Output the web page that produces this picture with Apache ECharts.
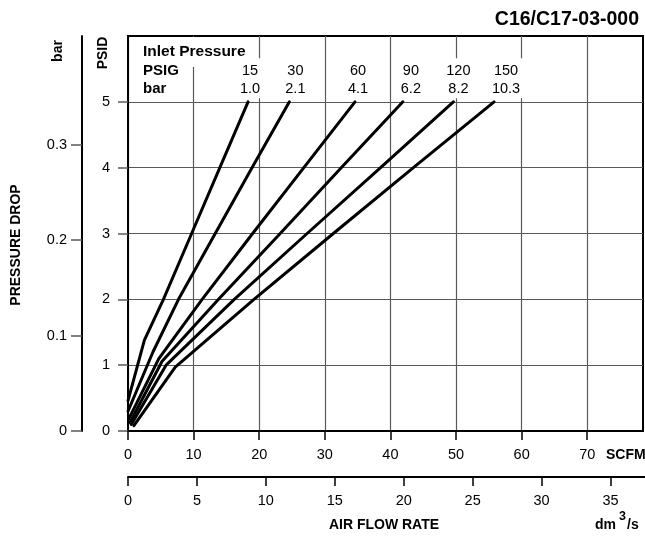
<!DOCTYPE html>
<html><head><meta charset="utf-8">
<script src="https://cdn.jsdelivr.net/npm/echarts@6/dist/echarts.min.js"></script>
<style>html,body{margin:0;padding:0;background:#fff}#c{width:645px;height:536px}</style>
</head><body><div id="c"></div>
<script>
// ---- data ----
const inletPSIG = ['15', '30', '60', '90', '120', '150'];
const inletBar  = ['1.0', '2.1', '4.1', '6.2', '8.2', '10.3'];

const flow15  = [0.0, 2.5, 5.4, 9.7, 14.0, 18.3];
const drop15  = [0.46, 1.38, 2, 3, 4, 5];
const flow30  = [0.0, 3.8, 7.7, 13.3, 18.9, 24.6];
const drop30  = [0.30, 1.20, 2, 3, 4, 5];
const flow60  = [0.1, 4.7, 11.3, 19.0, 26.8, 34.6];
const drop60  = [0.18, 1.10, 2, 3, 4, 5];
const flow90  = [0.3, 5.2, 13.8, 23.2, 32.5, 41.9];
const drop90  = [0.13, 1.06, 2, 3, 4, 5];
const flow120 = [0.5, 5.8, 16.2, 27.3, 38.5, 49.6];
const drop120 = [0.10, 1.00, 2, 3, 4, 5];
const flow150 = [0.9, 7.2, 19.2, 31.3, 43.5, 55.8];
const drop150 = [0.08, 0.97, 2, 3, 4, 5];

const scfmTicks = [0, 10, 20, 30, 40, 50, 60, 70];
const dm3Ticks  = [0, 5, 10, 15, 20, 25, 30, 35];
const psidTicks = [0, 1, 2, 3, 4, 5];
const barTicks  = [0, 0.1, 0.2, 0.3];

const PSI_PER_BAR = 14.5038;
const SCFM_MAX = 78.5, PSID_MAX = 6, DM3_MAX = 37.5;

// ---- style ----
const FONT = '"Liberation Sans", Arial, Helvetica, sans-serif';
const labelNudge = [2, 6, 3, 8, 5, 12];

const flows = [flow15, flow30, flow60, flow90, flow120, flow150];
const drops = [drop15, drop30, drop60, drop90, drop120, drop150];

const series = flows.map((f, i) => ({
  type: 'line', xAxisIndex: 0, yAxisIndex: 0,
  symbol: 'circle', symbolSize: 1, showSymbol: true, silent: true,
  itemStyle: { color: '#000' },
  lineStyle: { color: '#000', width: 3, cap: 'round', join: 'round' },
  label: { show: false },
  data: f.map((x, j) => {
    const item = { value: [x, drops[i][j]] };
    if (j === f.length - 1) {
      item.label = {
        show: true, position: 'top', distance: 3, offset: [labelNudge[i], 0],
        formatter: inletPSIG[i] + '\n' + inletBar[i],
        fontFamily: FONT, fontSize: 14.5, lineHeight: 18, color: '#000', align: 'center',
        backgroundColor: '#fff', padding: [4, 3, 0, 3]
      };
    }
    return item;
  }),
  z: 5
}));

const axisFont = { fontFamily: FONT, fontSize: 14.5, color: '#000' };
const grey = '#5a5a5a';

const option = {
  animation: false,
  backgroundColor: '#fff',
  grid: [
    { left: 128, top: 36, right: 2, bottom: 105, show: true, borderColor: '#000', borderWidth: 2, backgroundColor: 'transparent' },
    { left: 128, right: 0, top: 476, height: 1 },
    { left: 82, width: 1, top: 36, bottom: 105 }
  ],
  xAxis: [
    { gridIndex: 0, type: 'value', min: 0, max: SCFM_MAX, interval: 10,
      axisLine: { show: true, onZero: false, lineStyle: { color: '#000', width: 2 } },
      axisTick: { show: true, length: 9, customValues: scfmTicks, lineStyle: { color: '#000', width: 1.5 } },
      axisLabel: Object.assign({ margin: 16, customValues: scfmTicks,
        formatter: v => (scfmTicks.indexOf(v) >= 0 ? String(v) : '') }, axisFont),
      splitLine: { show: true, lineStyle: { color: grey, width: 1.2 } } },
    { gridIndex: 1, type: 'value', min: 0, max: DM3_MAX, interval: 5, position: 'bottom',
      axisLine: { show: true, onZero: false, lineStyle: { color: '#000', width: 2 } },
      axisTick: { show: true, length: 9, customValues: dm3Ticks, lineStyle: { color: '#000', width: 1.5 } },
      axisLabel: Object.assign({ margin: 16, customValues: dm3Ticks,
        formatter: v => (dm3Ticks.indexOf(v) >= 0 ? String(v) : '') }, axisFont),
      splitLine: { show: false } },
    { gridIndex: 2, type: 'value', show: false, min: 0, max: 1 }
  ],
  yAxis: [
    { gridIndex: 0, type: 'value', min: 0, max: PSID_MAX, interval: 1,
      axisLine: { show: true, onZero: false, lineStyle: { color: '#000', width: 2 } },
      axisTick: { show: true, length: 10, customValues: psidTicks, lineStyle: { color: grey, width: 1.5 } },
      axisLabel: Object.assign({ margin: 18, customValues: psidTicks,
        formatter: v => (psidTicks.indexOf(v) >= 0 ? String(v) : '') }, axisFont),
      splitLine: { show: true, lineStyle: { color: grey, width: 1.2 } } },
    { gridIndex: 1, type: 'value', show: false, min: 0, max: 1 },
    { gridIndex: 2, type: 'value', position: 'left', min: 0, max: PSID_MAX / PSI_PER_BAR, interval: 0.1,
      axisLine: { show: true, onZero: false, lineStyle: { color: '#000', width: 2 } },
      axisTick: { show: true, length: 11, customValues: barTicks, lineStyle: { color: grey, width: 1.5 } },
      axisLabel: Object.assign({ margin: 15, customValues: barTicks,
        formatter: v => { const r = Math.round(v * 10) / 10; return barTicks.indexOf(r) >= 0 && Math.abs(r - v) < 1e-6 ? (r === 0 ? '0' : r.toFixed(1)) : ''; } }, axisFont),
      splitLine: { show: false } }
  ],
  graphic: [
    { type: 'text', z: 100, right: 6, top: 10, style: { text: 'C16/C17-03-000', font: 'bold 19.5px ' + FONT, fill: '#000' } },
    { type: 'text', z: 100, x: 58, y: 51, rotation: Math.PI / 2,
      style: { text: 'bar', font: 'bold 14px ' + FONT, fill: '#000', align: 'center', verticalAlign: 'middle' } },
    { type: 'text', z: 100, x: 103, y: 53, rotation: Math.PI / 2,
      style: { text: 'PSID', font: 'bold 14px ' + FONT, fill: '#000', align: 'center', verticalAlign: 'middle' } },
    { type: 'text', z: 100, x: 16, y: 245, rotation: Math.PI / 2,
      style: { text: 'PRESSURE DROP', font: 'bold 14px ' + FONT, fill: '#000', align: 'center', verticalAlign: 'middle' } },
    { type: 'rect', z: 99, shape: { x: 140, y: 37, width: 110, height: 23 }, style: { fill: '#fff' } },
    { type: 'rect', z: 99, shape: { x: 186, y: 37, width: 12, height: 30 }, style: { fill: '#fff' } },
    { type: 'text', z: 100, x: 143, y: 52,
      style: { text: 'Inlet Pressure', font: 'bold 15.5px ' + FONT, fill: '#000', verticalAlign: 'middle' } },
    { type: 'text', z: 100, x: 143, y: 71,
      style: { text: 'PSIG', font: 'bold 15px ' + FONT, fill: '#000', verticalAlign: 'middle' } },
    { type: 'text', z: 100, x: 143, y: 89,
      style: { text: 'bar', font: 'bold 15px ' + FONT, fill: '#000', verticalAlign: 'middle' } },
    { type: 'text', z: 100, x: 606, y: 455,
      style: { text: 'SCFM', font: 'bold 14px ' + FONT, fill: '#000', verticalAlign: 'middle' } },
    { type: 'text', z: 100, x: 384, y: 525,
      style: { text: 'AIR FLOW RATE', font: 'bold 14px ' + FONT, fill: '#000', align: 'center', verticalAlign: 'middle' } },
    { type: 'text', z: 100, x: 595, y: 525,
      style: { text: 'dm', font: 'bold 14px ' + FONT, fill: '#000', verticalAlign: 'middle' } },
    { type: 'text', z: 100, x: 619, y: 517,
      style: { text: '3', font: 'bold 12.5px ' + FONT, fill: '#000', verticalAlign: 'middle' } },
    { type: 'text', z: 100, x: 627, y: 525,
      style: { text: '/s', font: 'bold 14px ' + FONT, fill: '#000', verticalAlign: 'middle' } }
  ],
  series: series
};

const chart = echarts.init(document.getElementById('c'), null, { renderer: 'canvas' });
chart.setOption(option);
</script>
</body></html>
